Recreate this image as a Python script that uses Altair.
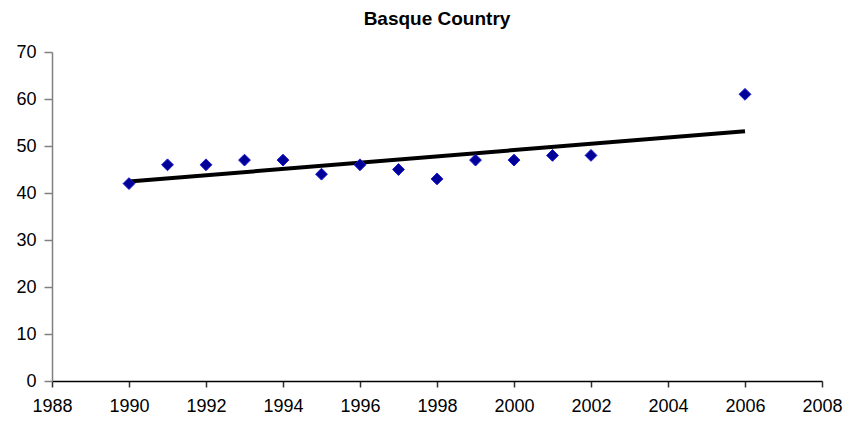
import altair as alt
import pandas as pd

years = [1990, 1991, 1992, 1993, 1994, 1995, 1996, 1997, 1998, 1999, 2000, 2001, 2002, 2006]
values = [42, 46, 46, 47, 47, 44, 46, 45, 43, 47, 47, 48, 48, 61]
x_ticks = list(range(1988, 2009, 2))
y_ticks = list(range(0, 71, 10))

df = pd.DataFrame({"year": years, "value": values})

x = alt.X("year:Q", scale=alt.Scale(domain=[1988, 2008], nice=False, zero=False),
          axis=alt.Axis(values=x_ticks, format="d", title=None, labelFlush=False,
                        grid=False, tickSize=6, labelPadding=10, domainColor="#000000",
                        tickColor="#303030"))
y = alt.Y("value:Q", scale=alt.Scale(domain=[0, 70], nice=False),
          axis=alt.Axis(values=y_ticks, title=None, grid=False, labelFlush=False,
                        tickSize=8, labelPadding=8, domainColor="#808080",
                        tickColor="#808080"))

points = alt.Chart(df).mark_point(shape="diamond", filled=True, size=140,
                                  color="#000099", stroke="#1a1acc", strokeWidth=1,
                                  opacity=1).encode(x=x, y=y)

trend = alt.Chart(df).transform_regression("year", "value").mark_line(
    color="#000000", strokeWidth=4).encode(x=x, y=y)

chart = (trend + points).properties(
    width=770, height=329,
    title=alt.TitleParams("Basque Country", fontSize=19, font="Liberation Sans",
                          fontWeight="bold", offset=14, color="#000000"),
    autosize=alt.AutoSizeParams(type="none"),
    padding={"left": 44, "top": 44, "right": 21, "bottom": 36},
).configure_view(stroke=None).configure_axis(
    labelFont="Liberation Sans", labelFontSize=18, labelColor="#000000",
    domainWidth=1.5, tickWidth=1.5)

chart.save("out.html", embed_options={"renderer": "svg", "actions": False})
